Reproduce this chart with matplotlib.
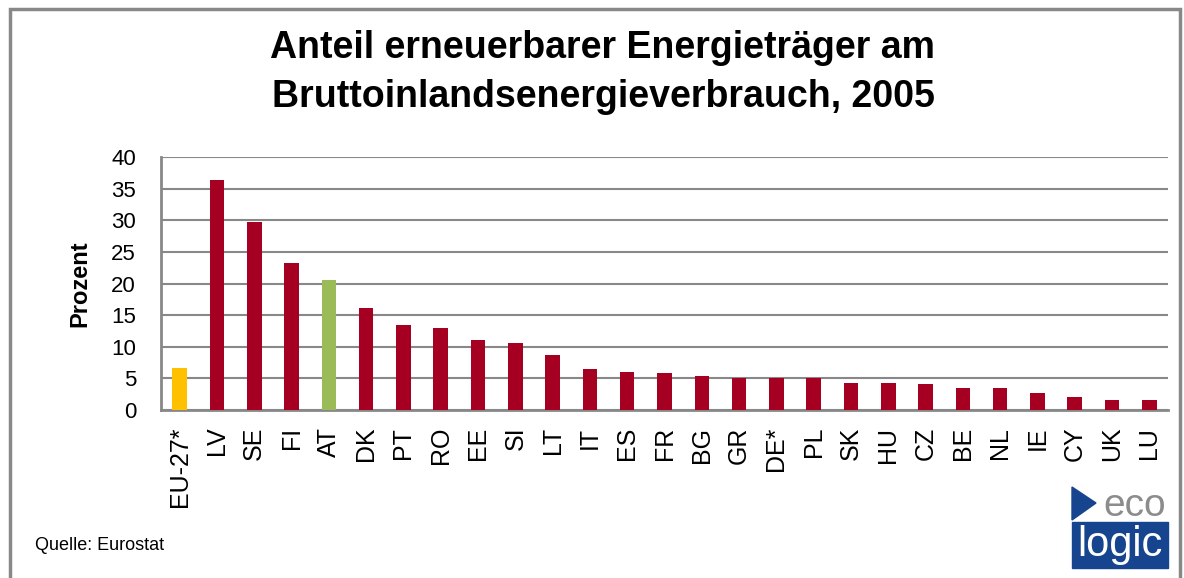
import matplotlib
matplotlib.use("Agg")
import matplotlib.pyplot as plt
from matplotlib.patches import Rectangle, Polygon

plt.rcParams['font.family'] = ['Liberation Sans', 'DejaVu Sans']

countries = ['EU-27*', 'LV', 'SE', 'FI', 'AT', 'DK', 'PT', 'RO', 'EE', 'SI',
             'LT', 'IT', 'ES', 'FR', 'BG', 'GR', 'DE*', 'PL', 'SK', 'HU',
             'CZ', 'BE', 'NL', 'IE', 'CY', 'UK', 'LU']
shares = [6.7, 36.3, 29.8, 23.2, 20.5, 16.1, 13.4, 12.9, 11.1, 10.6,
          8.7, 6.5, 6.0, 5.9, 5.4, 5.1, 5.0, 5.0, 4.3, 4.3,
          4.1, 3.5, 3.5, 2.7, 2.1, 1.6, 1.6]
yticks = [0, 5, 10, 15, 20, 25, 30, 35, 40]

RED = '#A50021'
colors = [RED] * len(countries)
colors[0] = '#FFC000'   # EU average
colors[4] = '#9BBB59'   # Austria highlighted

W, H = 1184, 578
fig = plt.figure(figsize=(W / 100, H / 100), dpi=100)


def fx(px):
    return px / W


def fy(py):
    return 1 - py / H


ax = fig.add_axes([fx(161), fy(410), fx(1168 - 161), (410 - 157) / H])
x = range(len(countries))
ax.bar(x, shares, width=0.39, color=colors, zorder=3)

ax.set_xlim(-0.5, len(countries) - 0.5)
ax.set_ylim(0, 40)
ax.set_yticks(yticks)
ax.set_xticks(list(x))
ax.set_xticklabels(countries, rotation=90, fontsize=18)
ax.tick_params(axis='y', labelsize=16, length=0, pad=18)
ax.tick_params(axis='x', length=0, pad=12)
ax.grid(axis='y', color='#888888', linewidth=1.5, zorder=0)
for side in ['top', 'right']:
    ax.spines[side].set_visible(False)
for side in ['left', 'bottom']:
    ax.spines[side].set_color('#888888')
    ax.spines[side].set_linewidth(2)
ax.set_ylabel('Prozent', fontsize=17, fontweight='bold', labelpad=14)

# title, two lines
fig.text(fx(603), fy(48), 'Anteil erneuerbarer Energieträger am',
         ha='center', va='center', fontsize=27, fontweight='bold')
fig.text(fx(603), fy(97), 'Bruttoinlandsenergieverbrauch, 2005',
         ha='center', va='center', fontsize=27, fontweight='bold')

fig.text(fx(35), fy(546), 'Quelle: Eurostat', ha='left', va='center', fontsize=13)

# outer frame
fig.add_artist(Rectangle((fx(10), fy(590)), fx(1180 - 10), (590 - 9) / H,
                         fill=False, edgecolor='#888888', linewidth=2.5,
                         transform=fig.transFigure))

# ecologic logo
BLUE = '#17448E'
fig.add_artist(Polygon([(fx(1072), fy(487)), (fx(1072), fy(520)), (fx(1096), fy(503))],
                       closed=True, color=BLUE, transform=fig.transFigure))
fig.add_artist(Rectangle((fx(1072), fy(568)), fx(1168 - 1072), (568 - 522) / H,
                         color=BLUE, transform=fig.transFigure))
fig.text(fx(1135), fy(506), 'eco', ha='center', va='center', fontsize=28, color='#8C8C8C')
fig.text(fx(1120), fy(545), 'logic', ha='center', va='center', fontsize=30, color='white')

fig.savefig('out.png', dpi=100)
